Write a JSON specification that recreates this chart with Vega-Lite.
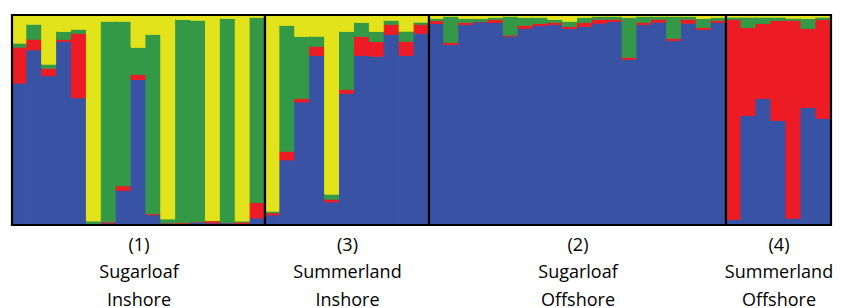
{
  "$schema": "https://vega.github.io/schema/vega-lite/v6.json",
  "padding": {"left": 10, "top": 13, "right": 0, "bottom": 0},
  "spacing": 0,
  "bounds": "flush",
  "background": "white",
  "config": {
    "view": {"stroke": null},
    "font": "Open Sans",
    "axis": {"titleFont": "Open Sans", "titleFontSize": 18, "titleFontWeight": "normal", "titleLineHeight": 27.5, "titleColor": "black", "titlePadding": 11}
  },
  "datasets": {
    "frame": [{"f": 1}],
    "q": [
    {"g":1,"i":1,"c1":0.676,"c2":0.171,"c3":0.019,"c4":0.134},
    {"g":1,"i":2,"c1":0.834,"c2":0.051,"c3":0.071,"c4":0.044},
    {"g":1,"i":3,"c1":0.711,"c2":0.036,"c3":0.019,"c4":0.234},
    {"g":1,"i":4,"c1":0.875,"c2":0.009,"c3":0.038,"c4":0.078},
    {"g":1,"i":5,"c1":0.606,"c2":0.307,"c3":0.019,"c4":0.068},
    {"g":1,"i":6,"c1":0.005,"c2":0.0,"c3":0.014,"c4":0.981},
    {"g":1,"i":7,"c1":0.010,"c2":0.005,"c3":0.955,"c4":0.030},
    {"g":1,"i":8,"c1":0.165,"c2":0.022,"c3":0.783,"c4":0.030},
    {"g":1,"i":9,"c1":0.693,"c2":0.024,"c3":0.129,"c4":0.154},
    {"g":1,"i":10,"c1":0.049,"c2":0.005,"c3":0.854,"c4":0.092},
    {"g":1,"i":11,"c1":0.010,"c2":0.0,"c3":0.019,"c4":0.971},
    {"g":1,"i":12,"c1":0.005,"c2":0.006,"c3":0.968,"c4":0.021},
    {"g":1,"i":13,"c1":0.015,"c2":0.0,"c3":0.960,"c4":0.025},
    {"g":1,"i":14,"c1":0.010,"c2":0.011,"c3":0.0,"c4":0.979},
    {"g":1,"i":15,"c1":0.011,"c2":0.0,"c3":0.973,"c4":0.016},
    {"g":1,"i":16,"c1":0.006,"c2":0.008,"c3":0.005,"c4":0.981},
    {"g":1,"i":17,"c1":0.034,"c2":0.073,"c3":0.882,"c4":0.011},
    {"g":3,"i":18,"c1":0.048,"c2":0.010,"c3":0.008,"c4":0.934},
    {"g":3,"i":19,"c1":0.310,"c2":0.041,"c3":0.600,"c4":0.049},
    {"g":3,"i":20,"c1":0.586,"c2":0.017,"c3":0.295,"c4":0.102},
    {"g":3,"i":21,"c1":0.808,"c2":0.043,"c3":0.048,"c4":0.101},
    {"g":3,"i":22,"c1":0.110,"c2":0.013,"c3":0.024,"c4":0.853},
    {"g":3,"i":23,"c1":0.627,"c2":0.019,"c3":0.276,"c4":0.078},
    {"g":3,"i":24,"c1":0.808,"c2":0.090,"c3":0.067,"c4":0.035},
    {"g":3,"i":25,"c1":0.804,"c2":0.070,"c3":0.048,"c4":0.078},
    {"g":3,"i":26,"c1":0.908,"c2":0.048,"c3":0.019,"c4":0.025},
    {"g":3,"i":27,"c1":0.808,"c2":0.067,"c3":0.048,"c4":0.077},
    {"g":3,"i":28,"c1":0.913,"c2":0.043,"c3":0.010,"c4":0.034},
    {"g":2,"i":29,"c1":0.960,"c2":0.014,"c3":0.010,"c4":0.016},
    {"g":2,"i":30,"c1":0.860,"c2":0.010,"c3":0.124,"c4":0.006},
    {"g":2,"i":31,"c1":0.955,"c2":0.010,"c3":0.019,"c4":0.016},
    {"g":2,"i":32,"c1":0.967,"c2":0.003,"c3":0.014,"c4":0.016},
    {"g":2,"i":33,"c1":0.965,"c2":0.014,"c3":0.010,"c4":0.011},
    {"g":2,"i":34,"c1":0.899,"c2":0.005,"c3":0.090,"c4":0.006},
    {"g":2,"i":35,"c1":0.937,"c2":0.014,"c3":0.038,"c4":0.011},
    {"g":2,"i":36,"c1":0.950,"c2":0.010,"c3":0.029,"c4":0.011},
    {"g":2,"i":37,"c1":0.955,"c2":0.010,"c3":0.014,"c4":0.021},
    {"g":2,"i":38,"c1":0.936,"c2":0.010,"c3":0.024,"c4":0.030},
    {"g":2,"i":39,"c1":0.946,"c2":0.019,"c3":0.024,"c4":0.011},
    {"g":2,"i":40,"c1":0.961,"c2":0.019,"c3":0.014,"c4":0.006},
    {"g":2,"i":41,"c1":0.970,"c2":0.010,"c3":0.014,"c4":0.006},
    {"g":2,"i":42,"c1":0.789,"c2":0.010,"c3":0.190,"c4":0.011},
    {"g":2,"i":43,"c1":0.955,"c2":0.010,"c3":0.029,"c4":0.006},
    {"g":2,"i":44,"c1":0.966,"c2":0.014,"c3":0.014,"c4":0.006},
    {"g":2,"i":45,"c1":0.879,"c2":0.010,"c3":0.105,"c4":0.006},
    {"g":2,"i":46,"c1":0.961,"c2":0.019,"c3":0.014,"c4":0.006},
    {"g":2,"i":47,"c1":0.931,"c2":0.010,"c3":0.043,"c4":0.016},
    {"g":2,"i":48,"c1":0.965,"c2":0.010,"c3":0.014,"c4":0.011},
    {"g":4,"i":49,"c1":0.027,"c2":0.952,"c3":0.011,"c4":0.010},
    {"g":4,"i":50,"c1":0.522,"c2":0.419,"c3":0.049,"c4":0.010},
    {"g":4,"i":51,"c1":0.603,"c2":0.357,"c3":0.030,"c4":0.010},
    {"g":4,"i":52,"c1":0.498,"c2":0.476,"c3":0.016,"c4":0.010},
    {"g":4,"i":53,"c1":0.032,"c2":0.943,"c3":0.010,"c4":0.015},
    {"g":4,"i":54,"c1":0.560,"c2":0.376,"c3":0.048,"c4":0.016},
    {"g":4,"i":55,"c1":0.508,"c2":0.471,"c3":0.011,"c4":0.010}
  ]},
  "hconcat": [
    {
      "width": 253, "height": 210,
      "layer": [
        {
          "data": {"name": "q"},
          "transform": [{"filter": "datum.g == 1"}, {"fold": ["c1","c2","c3","c4"], "as": ["k","q"]}],
          "mark": {"type": "bar", "strokeWidth": 1},
          "encoding": {
            "x": {"field": "i", "type": "ordinal", "scale": {"paddingInner": 0, "paddingOuter": 0}, "axis": {"labels": false, "ticks": false, "domain": false, "title": ["(1)", "Sugarloaf", "Inshore"]}},
            "y": {"field": "q", "type": "quantitative", "stack": "normalize", "scale": {"domain": [0, 1], "nice": false}, "axis": null},
            "color": {"field": "k", "type": "nominal", "scale": {"domain": ["c1","c2","c3","c4"], "range": ["#3953A4","#ED1C24","#339947","#E2E31A"]}, "legend": null},
            "stroke": {"field": "k", "type": "nominal", "scale": {"domain": ["c1","c2","c3","c4"], "range": ["#3953A4","#ED1C24","#339947","#E2E31A"]}, "legend": null},
            "order": {"field": "k", "type": "ordinal"}
          }
        },
        {"data": {"name": "frame"}, "mark": {"type": "rect", "fill": null, "stroke": "black", "strokeWidth": 2.2}, "encoding": {}}
      ]
    },
    {
      "width": 164, "height": 210,
      "layer": [
        {
          "data": {"name": "q"},
          "transform": [{"filter": "datum.g == 3"}, {"fold": ["c1","c2","c3","c4"], "as": ["k","q"]}],
          "mark": {"type": "bar", "strokeWidth": 1},
          "encoding": {
            "x": {"field": "i", "type": "ordinal", "scale": {"paddingInner": 0, "paddingOuter": 0}, "axis": {"labels": false, "ticks": false, "domain": false, "title": ["(3)", "Summerland", "Inshore"]}},
            "y": {"field": "q", "type": "quantitative", "stack": "normalize", "scale": {"domain": [0, 1], "nice": false}, "axis": null},
            "color": {"field": "k", "type": "nominal", "scale": {"domain": ["c1","c2","c3","c4"], "range": ["#3953A4","#ED1C24","#339947","#E2E31A"]}, "legend": null},
            "stroke": {"field": "k", "type": "nominal", "scale": {"domain": ["c1","c2","c3","c4"], "range": ["#3953A4","#ED1C24","#339947","#E2E31A"]}, "legend": null},
            "order": {"field": "k", "type": "ordinal"}
          }
        },
        {"data": {"name": "frame"}, "mark": {"type": "rect", "fill": null, "stroke": "black", "strokeWidth": 2.2}, "encoding": {}}
      ]
    },
    {
      "width": 297, "height": 210,
      "layer": [
        {
          "data": {"name": "q"},
          "transform": [{"filter": "datum.g == 2"}, {"fold": ["c1","c2","c3","c4"], "as": ["k","q"]}],
          "mark": {"type": "bar", "strokeWidth": 1},
          "encoding": {
            "x": {"field": "i", "type": "ordinal", "scale": {"paddingInner": 0, "paddingOuter": 0}, "axis": {"labels": false, "ticks": false, "domain": false, "title": ["(2)", "Sugarloaf", "Offshore"]}},
            "y": {"field": "q", "type": "quantitative", "stack": "normalize", "scale": {"domain": [0, 1], "nice": false}, "axis": null},
            "color": {"field": "k", "type": "nominal", "scale": {"domain": ["c1","c2","c3","c4"], "range": ["#3953A4","#ED1C24","#339947","#E2E31A"]}, "legend": null},
            "stroke": {"field": "k", "type": "nominal", "scale": {"domain": ["c1","c2","c3","c4"], "range": ["#3953A4","#ED1C24","#339947","#E2E31A"]}, "legend": null},
            "order": {"field": "k", "type": "ordinal"}
          }
        },
        {"data": {"name": "frame"}, "mark": {"type": "rect", "fill": null, "stroke": "black", "strokeWidth": 2.2}, "encoding": {}}
      ]
    },
    {
      "width": 105, "height": 210,
      "layer": [
        {
          "data": {"name": "q"},
          "transform": [{"filter": "datum.g == 4"}, {"fold": ["c1","c2","c3","c4"], "as": ["k","q"]}],
          "mark": {"type": "bar", "strokeWidth": 1},
          "encoding": {
            "x": {"field": "i", "type": "ordinal", "scale": {"paddingInner": 0, "paddingOuter": 0}, "axis": {"labels": false, "ticks": false, "domain": false, "title": ["(4)", "Summerland", "Offshore"]}},
            "y": {"field": "q", "type": "quantitative", "stack": "normalize", "scale": {"domain": [0, 1], "nice": false}, "axis": null},
            "color": {"field": "k", "type": "nominal", "scale": {"domain": ["c1","c2","c3","c4"], "range": ["#3953A4","#ED1C24","#339947","#E2E31A"]}, "legend": null},
            "stroke": {"field": "k", "type": "nominal", "scale": {"domain": ["c1","c2","c3","c4"], "range": ["#3953A4","#ED1C24","#339947","#E2E31A"]}, "legend": null},
            "order": {"field": "k", "type": "ordinal"}
          }
        },
        {"data": {"name": "frame"}, "mark": {"type": "rect", "fill": null, "stroke": "black", "strokeWidth": 2.2}, "encoding": {}}
      ]
    }
  ]
}
